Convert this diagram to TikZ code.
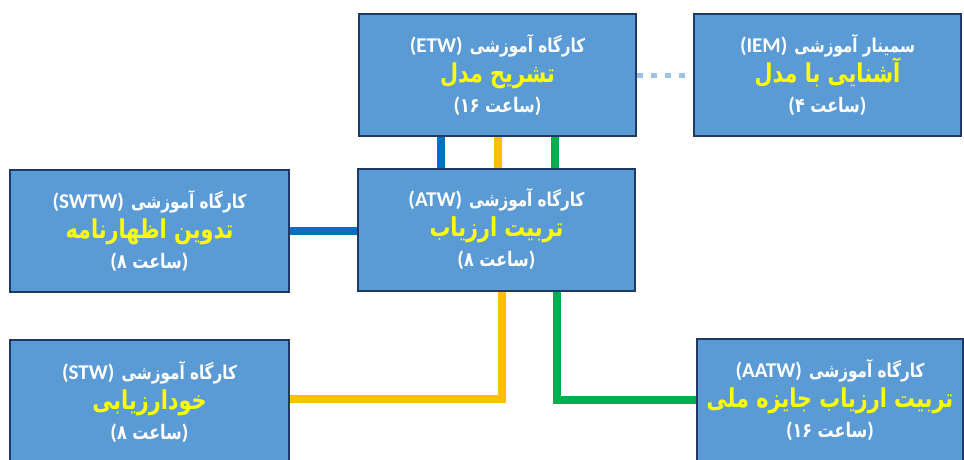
\documentclass[tikz,border=0pt]{standalone}
\usepackage{fontspec}
\usepackage{tikz}
\usetikzlibrary{backgrounds}
\TeXXeTstate=1
\newfontfamily\farsi[Script=Arabic, FakeStretch=0.8]{DejaVu Sans}
\newfontfamily\latin{Carlito}
\definecolor{boxfill}{RGB}{91, 155, 213}
\definecolor{boxline}{RGB}{32, 56, 100}
\definecolor{title}{RGB}{255, 255, 0}
\definecolor{bluelink}{RGB}{0, 112, 192}
\definecolor{yellowlink}{RGB}{255, 192, 0}
\definecolor{greenlink}{RGB}{0, 176, 80}
\definecolor{dotlink}{RGB}{157, 195, 230}
% kind, code, title, hours
\newcommand{\workshop}[4]{%
  {\latin\fontsize{21}{30}\selectfont(#2)} {\farsi #1}\\
  {\farsi\fontsize{26}{30}\selectfont\color{title}#3}\\
  {\latin\fontsize{21}{30}\selectfont(}{\farsi\fontsize{20}{30}\selectfont #4}{\latin\fontsize{21}{30}\selectfont)}}

\begin{document}
\begin{tikzpicture}[x=1pt, y=-1pt,
  box/.style={draw=boxline, line width=2pt, fill=boxfill, text=white,
    minimum width=277pt, minimum height=122pt, inner sep=0pt, align=center,
    font=\bfseries\fontsize{19}{30}\selectfont},
  link/.style={line width=8pt}]
  \useasboundingbox (0, 0) rectangle (964, 459);

  % top row
  \node [box] (etw) at (497.5, 75) {\workshop{\beginR کارگاه آموزشی\endR}{ETW}{\beginR تشریح مدل\endR}{\beginR ساعت ۱۶\endR}};
  \node [box, minimum width=267pt] (iem) at (827.5, 75) {\workshop{\beginR سمینار آموزشی\endR}{IEM}{\beginR آشنایی با مدل\endR}{\beginR ساعت ۴\endR}};

  % middle row
  \node [box, minimum width=279pt] (swtw) at (149.5, 231) {\workshop{\beginR کارگاه آموزشی\endR}{SWTW}{\beginR تدوین اظهارنامه\endR}{\beginR ساعت ۸\endR}};
  \node [box] (atw) at (496.5, 229.5) {\workshop{\beginR کارگاه آموزشی\endR}{ATW}{\beginR تربیت ارزیاب\endR}{\beginR ساعت ۸\endR}};

  % bottom row
  \node [box, minimum width=279pt, minimum height=124pt] (stw) at (149.5, 402) {\workshop{\beginR کارگاه آموزشی\endR}{STW}{\beginR خودارزیابی\endR}{\beginR ساعت ۸\endR}};
  \node [box, minimum width=266pt] (aatw) at (830, 400) {\workshop{\beginR کارگاه آموزشی\endR}{AATW}{\beginR تربیت ارزیاب جایزه ملی\endR}{\beginR ساعت ۱۶\endR}};

  \begin{scope}[on background layer]
    \draw [link, bluelink] ([xshift=-56.5pt]etw.south) -- ([xshift=-56.5pt]etw.south |- atw.north);
    \draw [link, yellowlink] (etw.south) -- (etw.south |- atw.north);
    \draw [link, greenlink] ([xshift=57pt]etw.south) -- ([xshift=57pt]etw.south |- atw.north);
    \draw [link, bluelink] (swtw.east) -- (swtw.east -| atw.west);
    \draw [link, yellowlink] ([xshift=5pt]atw.south) |- ([yshift=3pt]stw.east);
    \draw [link, greenlink] ([xshift=60pt]atw.south) |- (aatw.west);
    \draw [link, dotlink, line width=5pt, dash pattern=on 6pt off 8pt] (etw.east) -- (iem.west);
  \end{scope}
\end{tikzpicture}
\end{document}
